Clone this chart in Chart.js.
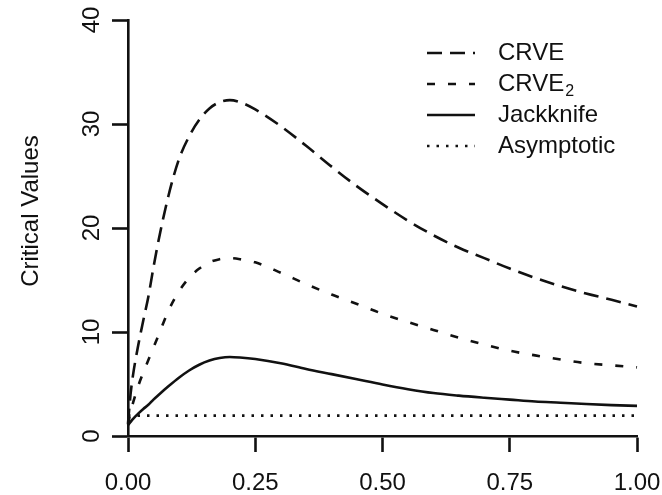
<!DOCTYPE html>
<html>
<head>
<meta charset="utf-8">
<script src="https://cdn.jsdelivr.net/npm/chart.js@4/dist/chart.umd.min.js"></script>
<style>
  html, body { margin: 0; padding: 0; background: #fff; }
  #wrap { width: 662px; height: 495px; }
</style>
</head>
<body>
<div id="wrap"><canvas id="c" width="662" height="495"></canvas></div>
<script>
// Grid of x values at which the critical values are tabulated
const xGrid = [0, 0.005, 0.01, 0.02, 0.03, 0.04, 0.05, 0.06, 0.08, 0.10, 0.12, 0.14, 0.16, 0.18,
  0.20, 0.22, 0.25, 0.30, 0.35, 0.40, 0.45, 0.50, 0.55, 0.60, 0.65, 0.70, 0.75, 0.80, 0.85,
  0.90, 0.95, 1.00];

// Critical values for each method
const crve = [1.2, 4.0, 5.9, 8.7, 11.1, 13.4, 16.2, 18.8, 23.2, 26.6, 28.8, 30.4, 31.5, 32.1,
  32.3, 32.1, 31.4, 29.8, 27.9, 25.9, 24.0, 22.3, 20.7, 19.3, 18.1, 17.1, 16.1, 15.2, 14.4,
  13.7, 13.1, 12.45];
const crve2 = [1.1, 2.3, 3.2, 4.8, 6.1, 7.3, 8.5, 9.7, 12.1, 13.9, 15.2, 16.1, 16.7, 17.0,
  17.1, 17.0, 16.7, 15.7, 14.6, 13.6, 12.7, 11.75, 10.95, 10.2, 9.45, 8.8, 8.2, 7.75, 7.35,
  7.0, 6.8, 6.6];
const jackknife = [1.05, 1.35, 1.65, 2.15, 2.6, 3.0, 3.5, 3.95, 4.8, 5.6, 6.3, 6.85, 7.25, 7.5,
  7.6, 7.55, 7.4, 7.0, 6.45, 5.95, 5.45, 4.95, 4.5, 4.13, 3.88, 3.68, 3.5, 3.32, 3.2,
  3.07, 2.97, 2.9];
const asymptoticX = [0, 1];
const asymptotic = [1.96, 1.96];

// Axis ticks
const xTicks = [0, 0.25, 0.5, 0.75, 1];
const yTicks = [0, 10, 20, 30, 40];
const yTitle = 'Critical Values';

const INK = '#111';
const FONT = '"Liberation Sans", Arial, Helvetica, sans-serif';

function pts(xs, ys) { return xs.map((x, i) => ({ x: x, y: ys[i] })); }

const datasets = [
  { label: 'CRVE', sub: '', data: pts(xGrid, crve), borderDash: [15, 8] },
  { label: 'CRVE', sub: '2', data: pts(xGrid, crve2), borderDash: [8, 13] },
  { label: 'Jackknife', sub: '', data: pts(xGrid, jackknife), borderDash: [] },
  { label: 'Asymptotic', sub: '', data: pts(asymptoticX, asymptotic), borderDash: [2.5, 7] }
].map(d => Object.assign({
  borderColor: INK,
  borderWidth: 2.6,
  pointRadius: 0,
  fill: false,
  cubicInterpolationMode: 'monotone',
  clip: false
}, d));

// Legend and rotated axis title drawn onto the canvas after the chart
const annotate = {
  id: 'annotate',
  afterDraw(chart) {
    const ctx = chart.ctx;
    ctx.save();
    ctx.fillStyle = INK;
    ctx.strokeStyle = INK;

    // y axis title
    ctx.save();
    ctx.translate(31, 211);
    ctx.rotate(-Math.PI / 2);
    ctx.font = '24px ' + FONT;
    ctx.textAlign = 'center';
    ctx.textBaseline = 'middle';
    ctx.fillText(yTitle, 0, 0);
    ctx.restore();

    // legend
    const x0 = 427, x1 = 475, tx = 498, rowY = 53, rowGap = 31;
    chart.data.datasets.forEach((ds, i) => {
      const y = rowY + i * rowGap;
      ctx.save();
      ctx.lineWidth = ds.borderWidth;
      ctx.setLineDash(ds.borderDash);
      ctx.beginPath();
      ctx.moveTo(x0, y);
      ctx.lineTo(x1, y);
      ctx.stroke();
      ctx.restore();
      ctx.font = '24px ' + FONT;
      ctx.textAlign = 'left';
      ctx.textBaseline = 'middle';
      ctx.fillText(ds.label, tx, y);
      if (ds.sub) {
        const w = ctx.measureText(ds.label).width;
        ctx.font = '16px ' + FONT;
        ctx.textBaseline = 'alphabetic';
        ctx.fillText(ds.sub, tx + w + 1, y + 12);
      }
    });
    ctx.restore();
  }
};

new Chart(document.getElementById('c'), {
  type: 'line',
  data: { datasets: datasets },
  plugins: [annotate],
  options: {
    responsive: false,
    devicePixelRatio: 1,
    animation: false,
    layout: { padding: { top: 20, right: 25, left: 0, bottom: 0 } },
    plugins: { legend: { display: false }, tooltip: { enabled: false } },
    scales: {
      x: {
        type: 'linear',
        min: 0, max: 1,
        afterBuildTicks: s => { s.ticks = xTicks.map(v => ({ value: v })); },
        afterFit: s => { s.height = 59; s.paddingLeft = 0; s.paddingRight = 0; },
        ticks: {
          autoSkip: false, maxRotation: 0, minRotation: 0,
          padding: 16.5,
          color: INK,
          font: { family: FONT, size: 24 },
          callback: v => Number(v).toFixed(2)
        },
        grid: { drawOnChartArea: false, drawTicks: true, tickLength: 16, tickWidth: 2.6, tickColor: INK },
        border: { display: true, width: 2.6, color: INK }
      },
      y: {
        type: 'linear',
        min: 0, max: 40,
        afterBuildTicks: s => { s.ticks = yTicks.map(v => ({ value: v })); },
        afterFit: s => { s.width = 128; s.paddingTop = 0; s.paddingBottom = 0; },
        ticks: {
          autoSkip: false, minRotation: 90, maxRotation: 90,
          crossAlign: 'center',
          padding: 6.7,
          color: INK,
          font: { family: FONT, size: 24 }
        },
        grid: { drawOnChartArea: false, drawTicks: true, tickLength: 16, tickWidth: 2.6, tickColor: INK },
        border: { display: true, width: 2.6, color: INK }
      }
    }
  }
});
</script>
</body>
</html>
